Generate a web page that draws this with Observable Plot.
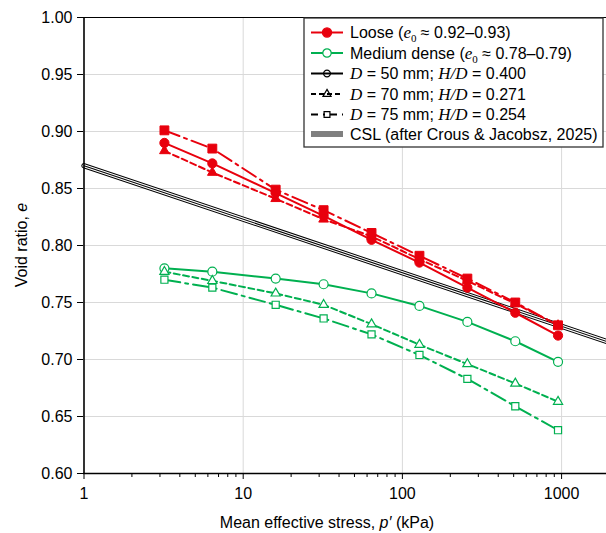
<!DOCTYPE html>
<html><head><meta charset="utf-8">
<script src="https://cdn.jsdelivr.net/npm/d3@7"></script>
<script src="https://cdn.jsdelivr.net/npm/@observablehq/plot@0.6"></script>
<style>
body{margin:0;background:#fff;}
#chart{width:606px;height:533px;overflow:hidden;position:relative;}
</style>
</head><body><div id="chart"></div>
<script>
// ---- data ----
const pressures = [3.2, 6.4, 16, 32, 64, 128, 256, 512, 950];
const looseD50  = [0.890, 0.872, 0.846, 0.826, 0.805, 0.785, 0.763, 0.741, 0.721];
const looseD70  = [0.883, 0.864, 0.841, 0.823, 0.808, 0.788, 0.769, 0.749, 0.730];
const looseD75  = [0.901, 0.885, 0.849, 0.831, 0.811, 0.791, 0.771, 0.750, 0.730];
const mediumD50 = [0.780, 0.777, 0.771, 0.766, 0.758, 0.747, 0.733, 0.716, 0.698];
const mediumD70 = [0.777, 0.769, 0.758, 0.748, 0.731, 0.713, 0.696, 0.679, 0.663];
const mediumD75 = [0.770, 0.763, 0.748, 0.736, 0.722, 0.704, 0.683, 0.659, 0.638];
const cslP = [1, 2000];
const cslE = [0.870, 0.715];
const xTicks = [1, 10, 100, 1000];
const xMinorTicks = [2,3,4,5,6,7,8,9,20,30,40,50,60,70,80,90,200,300,400,500,600,700,800,900];
const yTicks = [0.60, 0.65, 0.70, 0.75, 0.80, 0.85, 0.90, 0.95, 1.00];

// ---- styles ----
const RED = "#e8000d", GREEN = "#00b050";
const DASH = {D50: null, D70: "6,3.5", D75: "16,5,3,5"};
const SYM = {D50: "circle", D70: "triangle", D75: "square"};
const series = [
  {state: "loose",  geom: "D50", values: looseD50},
  {state: "loose",  geom: "D70", values: looseD70},
  {state: "loose",  geom: "D75", values: looseD75},
  {state: "medium", geom: "D50", values: mediumD50},
  {state: "medium", geom: "D70", values: mediumD70},
  {state: "medium", geom: "D75", values: mediumD75}
];
const csl = cslP.map((p, i) => ({p, e: cslE[i]}));

const marks = [
  Plot.gridY(yTicks, {stroke: "#d9d9d9", strokeOpacity: 1, strokeWidth: 1}),
  Plot.gridX([10, 100, 1000], {stroke: "#d9d9d9", strokeOpacity: 1, strokeWidth: 1}),
  Plot.line(csl, {x: "p", y: "e", stroke: "#000", strokeWidth: 5.2}),
  Plot.line(csl, {x: "p", y: "e", stroke: "#fff", strokeWidth: 3.2}),
  Plot.line(csl, {x: "p", y: "e", stroke: "#000", strokeWidth: 1.1})
];
const markerR = {
  loose:  {D50: 4.6, D70: 3.6, D75: 5.0},
  medium: {D50: 4.5, D70: 3.4, D75: 4.0}
};
for (const s of series) {
  const rows = pressures.map((p, i) => ({p, e: s.values[i]}));
  const color = s.state === "loose" ? RED : GREEN;
  marks.push(Plot.line(rows, {x: "p", y: "e", stroke: color, strokeWidth: 2, strokeDasharray: DASH[s.geom]}));
}
for (const s of series) {
  const rows = pressures.map((p, i) => ({p, e: s.values[i]}));
  const loose = s.state === "loose";
  const color = loose ? RED : GREEN;
  marks.push(Plot.dot(rows, {
    x: "p", y: "e", symbol: SYM[s.geom], r: markerR[s.state][s.geom],
    fill: loose ? color : "white", stroke: color, strokeWidth: loose ? 1 : 1.2
  }));
}
marks.push(
  Plot.ruleY([1.0], {stroke: "#000", strokeWidth: 1.2}),
  Plot.ruleY([0.6], {stroke: "#000", strokeWidth: 1.6}),
  Plot.ruleX([1], {stroke: "#000", strokeWidth: 1.6}),
  Plot.axisY({ticks: yTicks, tickFormat: d => d.toFixed(2), tickSize: 6, tickPadding: 5, label: null, fontSize: 16}),
  Plot.axisX({ticks: xTicks, tickFormat: d => String(d), tickSize: 6, tickPadding: 8, label: null, fontSize: 16}),
  Plot.axisX({ticks: xMinorTicks, tickFormat: () => "", tickSize: 4, label: null})
);

const chart = Plot.plot({
  width: 606, height: 533,
  marginTop: 17, marginBottom: 60, marginLeft: 83, marginRight: 0,
  x: {type: "log", domain: [1, 2000], range: [83.5, 609]},
  y: {domain: [0.6, 1.0]},
  style: {fontFamily: "'Liberation Sans', Arial, sans-serif", fontSize: "16px", color: "#000", background: "#fff", overflow: "hidden"},
  marks
});
document.getElementById("chart").appendChild(chart);

// ---- axis titles ----
const svg = d3.select(chart);
const sans = "'Liberation Sans', Arial, sans-serif";
const serif = "'Liberation Serif', 'Times New Roman', serif";
const xt = svg.append("text").attr("x", 327).attr("y", 528).attr("text-anchor", "middle")
  .attr("font-family", sans).attr("font-size", 16).attr("fill", "#000");
xt.append("tspan").text("Mean effective stress, ");
xt.append("tspan").attr("font-style", "italic").text("p\u2032");
xt.append("tspan").text(" (kPa)");
const yt = svg.append("text").attr("transform", "translate(27,245) rotate(-90)").attr("text-anchor", "middle")
  .attr("font-family", sans).attr("font-size", 16).attr("fill", "#000");
yt.append("tspan").text("Void ratio, ");
yt.append("tspan").attr("font-style", "italic").text("e");

// ---- legend ----
const lg = svg.append("g").attr("text-anchor", "start");
lg.append("rect").attr("x", 304).attr("y", 18).attr("width", 299).attr("height", 129)
  .attr("fill", "#ffffff").attr("stroke", "#333333").attr("stroke-width", 1.3)
  .attr("style", "fill:#ffffff;stroke:#333333;stroke-width:1.3px");
const rowsY = [32.5, 53, 73.5, 94, 114.5, 134];
const x0 = 311, x1 = 343, xm = 327, tx = 350;
const legendItems = [
  {color: RED, dash: null, sym: "circle", r: 4.6, fill: RED, parts: [["Loose (", 0], ["e", 1], ["0", 2], [" \u2248 0.92\u20130.93)", 0]]},
  {color: GREEN, dash: null, sym: "circle", r: 4.2, fill: "#fff", parts: [["Medium dense (", 0], ["e", 1], ["0", 2], [" \u2248 0.78\u20130.79)", 0]]},
  {color: "#000", dash: null, sym: "circle", r: 3.4, fill: "none", parts: [["D", 1], [" = 50 mm; ", 0], ["H/D", 1], [" = 0.400", 0]]},
  {color: "#000", dash: "5,3", sym: "triangle", r: 3.0, fill: "none", parts: [["D", 1], [" = 70 mm; ", 0], ["H/D", 1], [" = 0.271", 0]]},
  {color: "#000", dash: "7,5,2,5", sym: "square", r: 3.3, fill: "none", parts: [["D", 1], [" = 75 mm; ", 0], ["H/D", 1], [" = 0.254", 0]]},
  {csl: true, parts: [["CSL (after Crous & Jacobsz, 2025)", 0]]}
];
const symMap = {circle: d3.symbolCircle, triangle: d3.symbolTriangle, square: d3.symbolSquare};
legendItems.forEach((it, i) => {
  const y = rowsY[i];
  if (it.csl) {
    lg.append("line").attr("x1", x0).attr("x2", x1).attr("y1", y).attr("y2", y).attr("stroke", "#000").attr("stroke-width", 5);
    lg.append("line").attr("x1", x0).attr("x2", x1).attr("y1", y).attr("y2", y).attr("stroke", "#fff").attr("stroke-width", 3);
    lg.append("line").attr("x1", x0).attr("x2", x1).attr("y1", y).attr("y2", y).attr("stroke", "#000").attr("stroke-width", 1);
  } else {
    lg.append("line").attr("x1", x0).attr("x2", x1).attr("y1", y).attr("y2", y)
      .attr("stroke", it.color).attr("stroke-width", 2).attr("stroke-dasharray", it.dash);
    lg.append("path").attr("d", d3.symbol(symMap[it.sym], Math.PI * it.r * it.r)())
      .attr("transform", `translate(${xm},${y})`)
      .attr("fill", it.fill).attr("stroke", it.color).attr("stroke-width", 1.2);
  }
  const t = lg.append("text").attr("x", tx).attr("y", y + 5.7).attr("text-anchor", "start")
    .attr("font-family", sans).attr("font-size", 16).attr("fill", "#000");
  it.parts.forEach(([s, k]) => {
    const sp = t.append("tspan").text(s);
    if (k === 1) sp.attr("font-family", serif).attr("font-style", "italic").attr("font-size", 17);
    if (k === 2) sp.attr("font-family", serif).attr("font-size", 11).attr("dy", 4);
    if (k === 0 && s.startsWith(" \u2248")) sp.attr("dy", -4);
  });
});
</script>
</body></html>
